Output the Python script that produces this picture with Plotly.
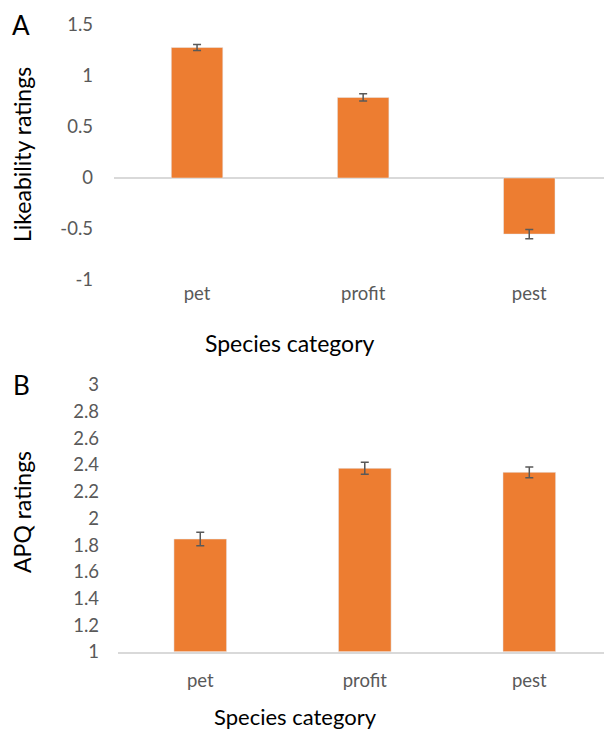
import plotly.graph_objects as go

categories = ["pet", "profit", "pest"]
likeability = [1.28, 0.79, -0.55]
likeability_err = [0.03, 0.035, 0.045]
apq = [1.845, 2.375, 2.345]
apq_err = [0.05, 0.045, 0.04]

a_ticks = [-1, -0.5, 0, 0.5, 1, 1.5]
b_ticks = [1, 1.2, 1.4, 1.6, 1.8, 2, 2.2, 2.4, 2.6, 2.8, 3]

W, H = 604, 731
ORANGE = "#ED7D31"
GRAY = "#595959"
FONT = "Lato"

def px(x):
    return x / W

def py(y):
    return 1 - y / H

fig = go.Figure()
fig.add_trace(go.Bar(
    x=categories, y=likeability, marker_color=ORANGE, width=0.31,
    error_y=dict(type="data", array=likeability_err, color=GRAY, thickness=1.5, width=4),
    xaxis="x", yaxis="y", showlegend=False))
fig.add_trace(go.Bar(
    x=categories, y=[v - 1 for v in apq], base=[1, 1, 1], marker_color=ORANGE, width=0.32,
    error_y=dict(type="data", array=apq_err, color=GRAY, thickness=1.5, width=4),
    xaxis="x2", yaxis="y2", showlegend=False))

tickfont = dict(family=FONT, size=18.5, color=GRAY)

fig.update_layout(
    width=W, height=H,
    margin=dict(l=0, r=0, t=0, b=0, autoexpand=False),
    paper_bgcolor="white", plot_bgcolor="white",
    font=dict(family=FONT),
    showlegend=False,
    xaxis=dict(domain=[px(114), 1], range=[-0.5, 2.45], anchor="y", automargin=False,
               showgrid=False, showline=False, zeroline=False, ticks="",
               tickfont=tickfont, ticklabelstandoff=0),
    yaxis=dict(domain=[py(280), py(25)], range=[-1, 1.5], anchor="x", automargin=False,
               tickvals=a_ticks, ticktext=[str(t) for t in a_ticks],
               showgrid=False, zeroline=True, zerolinecolor="#d9d9d9", zerolinewidth=1.5,
               showline=False, ticks="", tickfont=tickfont, ticklabelstandoff=20),
    xaxis2=dict(domain=[px(118), 1], range=[-0.5, 2.454], anchor="y2", automargin=False,
                showgrid=False, showline=True, linecolor="#d9d9d9", linewidth=1.5,
                zeroline=False, ticks="", tickfont=tickfont, ticklabelstandoff=11),
    yaxis2=dict(domain=[py(651.7), py(385)], range=[1, 3], anchor="x2", automargin=False,
                tickvals=b_ticks, ticktext=[f"{t:g}" for t in b_ticks],
                showgrid=False, zeroline=False, showline=False, ticks="",
                tickfont=tickfont, ticklabelstandoff=18),
)

annots = [
    dict(text="A", x=px(21), y=py(25), size=26, angle=0),
    dict(text="B", x=px(21), y=py(385), size=26, angle=0),
    dict(text="Likeability ratings", x=px(22), y=py(155), size=23, angle=-90),
    dict(text="APQ ratings", x=px(22), y=py(512), size=23, angle=-90),
    dict(text="Species category", x=px(290), y=py(343), size=23, angle=0),
    dict(text="Species category", x=px(295), y=py(716), size=22, angle=0),
]
for a in annots:
    fig.add_annotation(text=a["text"], x=a["x"], y=a["y"], xref="paper", yref="paper",
                       xanchor="center", yanchor="middle", showarrow=False,
                       textangle=a["angle"], font=dict(family=FONT, size=a["size"], color="black"))

fig.write_html("out.html", config={"displayModeBar": False},
               post_script="document.body.style.margin='0';document.body.style.overflow='hidden';")
